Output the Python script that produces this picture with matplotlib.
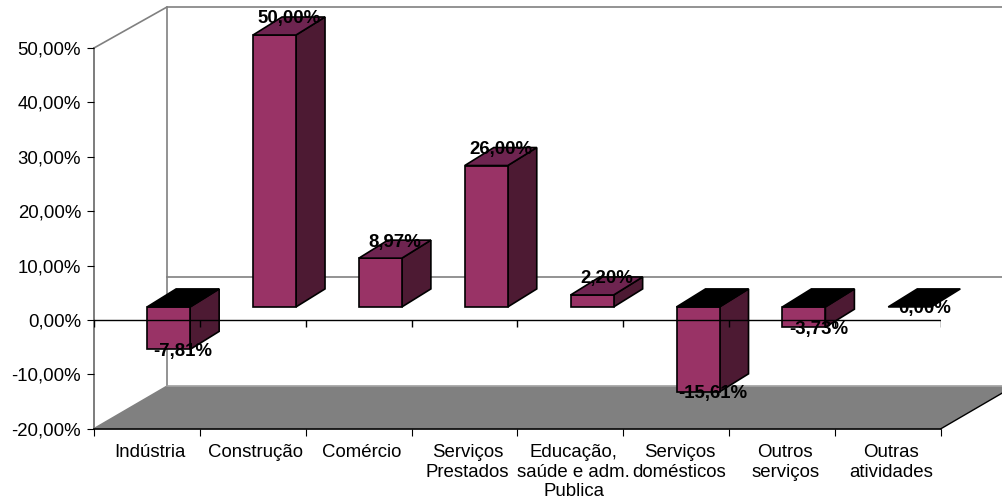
import matplotlib
matplotlib.use("Agg")
import matplotlib.pyplot as plt
from matplotlib.patches import Polygon
import numpy as np

plt.rcParams["font.family"] = ["Liberation Sans", "DejaVu Sans"]

# Values
categories = ["Indústria", "Construção", "Comércio", "Serviços\nPrestados",
              "Educação,\nsaúde e adm.\nPublica", "Serviços\ndomésticos",
              "Outros\nserviços", "Outras\natividades"]
values = [-7.81, 50.00, 8.97, 26.00, 2.20, -15.61, -3.73, 0.00]
y_ticks = [-20, -10, 0, 10, 20, 30, 40, 50]
y_tick_labels = ["-20,00%", "-10,00%", "0,00%", "10,00%", "20,00%", "30,00%", "40,00%", "50,00%"]

W, H = 1003, 501
fig = plt.figure(figsize=(W / 100, H / 100), dpi=100)
ax = fig.add_axes([94 / W, 1 - 428.7 / H, (941 - 94) / W, (428.7 - 48) / H])
ax.set_xlim(0, 8)
ax.set_ylim(-20, 50)

# 3D offsets, in data units
px_x = 8 / (941 - 94)
px_y = 70 / (428.7 - 48)
wall_dx, wall_dy = 73 * px_x, 42.5 * px_y
bar_dx, bar_dy = 29 * px_x, 18 * px_y
bar_w = 43 * px_x
base = 13 * px_y
top_y = 50 + 41 * px_y
grey = "#808080"

# floor
ax.add_patch(Polygon([(0, -20), (8, -20), (8 + wall_dx, -20 + wall_dy), (wall_dx, -20 + wall_dy)],
                     facecolor=grey, edgecolor="none", zorder=1, clip_on=False))
# walls
ax.plot([0, wall_dx, 8 + wall_dx], [50, top_y, top_y], color=grey, lw=1.2, zorder=1, clip_on=False)
ax.plot([0, 0], [-20, 50], color="#666666", lw=1.2, zorder=1, clip_on=False)
ax.plot([wall_dx, wall_dx], [-20 + wall_dy, top_y], color=grey, lw=1.2, zorder=1, clip_on=False)
ax.plot([0, wall_dx], [-20, -20 + wall_dy], color=grey, lw=1.2, zorder=1, clip_on=False)
ax.plot([wall_dx, 8 + wall_dx], [wall_dy, wall_dy], color=grey, lw=1.2, zorder=1, clip_on=False)
ax.plot([wall_dx, 8 + wall_dx], [-20 + wall_dy] * 2, color="#a0a0a0", lw=1.2, zorder=1, clip_on=False)
ax.plot([8, 8 + wall_dx], [-20, -20 + wall_dy], color="black", lw=1, zorder=2, clip_on=False)

# bars
for i, v in enumerate(values):
    x0 = i + 0.705 - bar_w / 2
    x1 = x0 + bar_w
    y0 = base
    y1 = base + v
    top = max(y0, y1)
    top_color = "#6e2450" if v > 0 else "black"
    kw = dict(edgecolor="black", lw=1.2, joinstyle="miter", zorder=3, clip_on=False)
    if v != 0:
        ax.add_patch(Polygon([(x1, y0), (x1 + bar_dx, y0 + bar_dy), (x1 + bar_dx, y1 + bar_dy), (x1, y1)],
                             facecolor="#4d1a33", **kw))
        ax.add_patch(Polygon([(x0, y0), (x1, y0), (x1, y1), (x0, y1)], facecolor="#993366", **kw))
    ax.add_patch(Polygon([(x0, top), (x1, top), (x1 + bar_dx, top + bar_dy), (x0 + bar_dx, top + bar_dy)],
                         facecolor=top_color, **kw))

# zero line with its ticks
ax.plot([0, 8], [0, 0], color="black", lw=1, zorder=4)
ax.vlines(np.arange(0, 9), -1.3, 0, color="black", lw=1, zorder=4)
ax.plot([0, 8], [-20, -20], color="black", lw=1.2, zorder=4, clip_on=False)

# value labels
for i, v in enumerate(values):
    label = f"{v:.2f}%".replace(".", ",")
    y = base + v + bar_dy if v > 0 else base + v
    ax.text(i + 0.705 + bar_dx / 2, y, label, ha="center", va="center_baseline",
            fontsize=13.4, fontweight="bold", color="black", zorder=5, clip_on=False)

for s in ax.spines.values():
    s.set_visible(False)
ax.patch.set_visible(False)
ax.set_yticks(y_ticks)
ax.set_yticklabels(y_tick_labels, fontsize=13.4, color="black")
ax.tick_params(axis="y", length=5, width=0.8, pad=4.3)
ax.set_xticks(np.arange(0, 9))
ax.set_xticklabels([])
ax.tick_params(axis="x", which="major", length=5, width=0.8)
ax.set_xticks(np.arange(len(categories)) + 0.53, minor=True)
ax.set_xticklabels(categories, minor=True, fontsize=13.4, linespacing=1.2, color="black")
ax.tick_params(axis="x", which="minor", length=0, pad=11)

fig.savefig("out.png", dpi=100)
